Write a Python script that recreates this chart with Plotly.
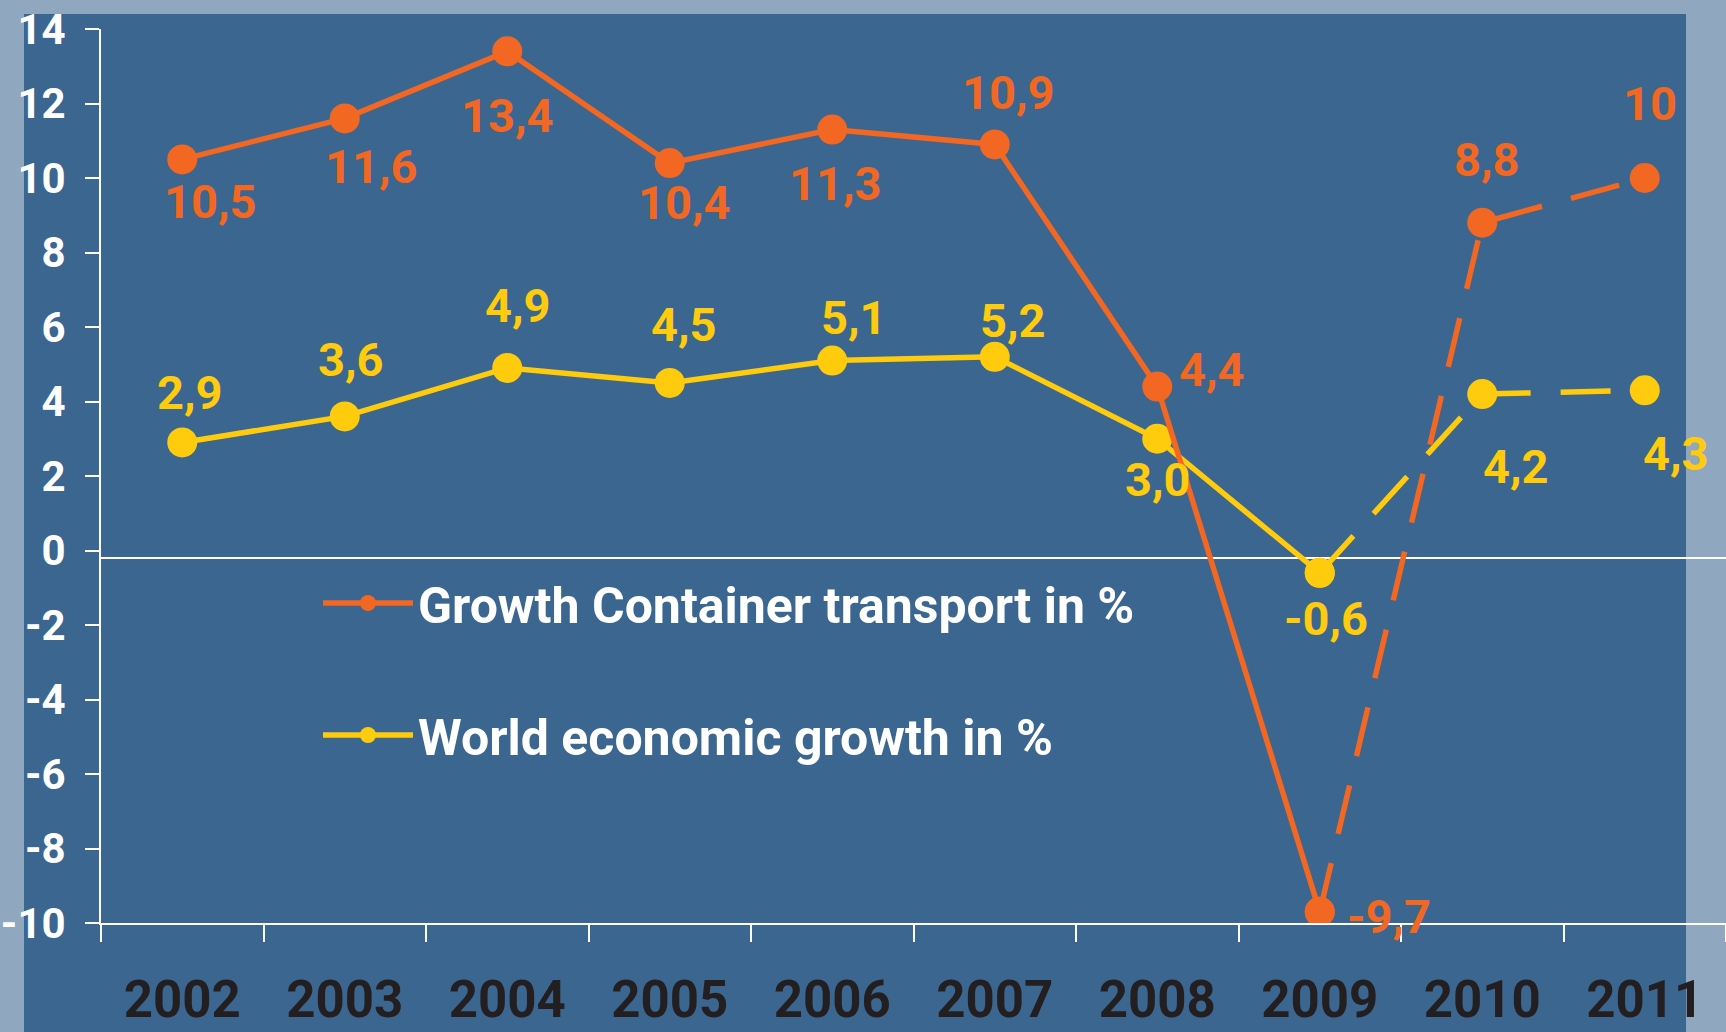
import plotly.graph_objects as go

# ---------------- data ----------------
years = ["2002", "2003", "2004", "2005", "2006", "2007", "2008", "2009", "2010", "2011"]
container_growth = [10.5, 11.6, 13.4, 10.4, 11.3, 10.9, 4.4, -9.7, 8.8, 10.0]
world_growth = [2.9, 3.6, 4.9, 4.5, 5.1, 5.2, 3.0, -0.6, 4.2, 4.3]
container_labels = ["10,5", "11,6", "13,4", "10,4", "11,3", "10,9", "4,4", "-9,7", "8,8", "10"]
world_labels = ["2,9", "3,6", "4,9", "4,5", "5,1", "5,2", "3,0", "-0,6", "4,2", "4,3"]
y_ticks = [-10, -8, -6, -4, -2, 0, 2, 4, 6, 8, 10, 12, 14]
last_actual = "2009"          # solid up to here, dashed afterwards
baseline_value = -0.2         # the light reference line near zero

# ---------------- style ----------------
W, H = 1726, 1032
ML, MR, MT, MB = 101, 0, 29, 109
ORANGE = "#F26722"
YELLOW = "#FFCB0D"
PANEL = "#3A6690"
OUTER = "#8FA7BF"
DARK = "#231F20"
FONT = "Liberation Sans Narrow, Arial Narrow, Roboto, sans-serif"

# label offsets (pixels: dx right, dy down)
container_off = [(28, 42), (26, 48), (0, 64), (14, 39), (3, 54), (13, -52),
                 (55, -17), (69, 5), (5, -63), (5, -75)]
world_off = [(8, -50), (6, -57), (11, -62), (14, -58), (22, -43), (18, -36),
             (1, 41), (6, 46), (34, 72), (31, 63)]

split = years.index(last_actual)
fig = go.Figure()


def add_series(name, vals, color, rank):
    fig.add_trace(go.Scatter(
        x=years[:split + 1], y=vals[:split + 1], name=name, mode="lines+markers",
        line=dict(color=color, width=5.5), marker=dict(color=color, size=30),
        legendgroup=name, legendrank=rank, hoverinfo="skip"))
    fig.add_trace(go.Scatter(
        x=years[split:], y=vals[split:], name=name, mode="lines+markers",
        line=dict(color=color, width=5.5, dash="50px,30px"),
        marker=dict(color=color, size=30), legendgroup=name,
        showlegend=False, hoverinfo="skip"))


add_series("World economic growth in %", world_growth, YELLOW, 2)
add_series("Growth Container transport in %", container_growth, ORANGE, 1)

for vals, labels, offs, color in [(container_growth, container_labels, container_off, ORANGE),
                                  (world_growth, world_labels, world_off, YELLOW)]:
    for i, (v, t, (dx, dy)) in enumerate(zip(vals, labels, offs)):
        # category axes take the category index for annotation positions
        fig.add_annotation(
            x=i, y=v, xref="x", yref="y", text=t, showarrow=False,
            xanchor="center", yanchor="middle", xshift=dx, yshift=-dy,
            font=dict(family=FONT, size=47, color=color, weight="bold"))

pw = W - ML - MR
ph = H - MT - MB
shapes = [
    # dark panel
    dict(type="rect", xref="paper", yref="paper", layer="below",
         x0=(24 - ML) / pw, x1=(1686 - ML) / pw, y0=-MB / ph - 0.01, y1=(H - MB - 14) / ph,
         fillcolor=PANEL, line=dict(width=0)),
    # reference line near zero
    dict(type="line", xref="paper", yref="y", x0=0, x1=1, y0=baseline_value, y1=baseline_value,
         line=dict(color="white", width=2), layer="below"),
]

fig.update_layout(
    width=W, height=H, margin=dict(l=ML, r=MR, t=MT, b=MB, autoexpand=False),
    paper_bgcolor=OUTER, plot_bgcolor="rgba(0,0,0,0)",
    font=dict(family=FONT),
    showlegend=True,
    legend=dict(x=(318 - ML) / pw, y=(H - MB - 564) / ph, xanchor="left", yanchor="top",
                bgcolor="rgba(0,0,0,0)", traceorder="grouped", tracegroupgap=64,
                itemwidth=90,
                font=dict(family=FONT, size=50, color="white", weight="bold")),
    xaxis=dict(type="category", range=[-0.5, len(years) - 0.5], showgrid=False, zeroline=False,
               showline=True, linecolor="white", linewidth=2, ticks="outside",
               tickson="boundaries", ticklen=17, tickwidth=2, tickcolor="white",
               ticklabelstandoff=31, automargin=False,
               tickfont=dict(family=FONT, size=51, color=DARK, weight="bold"), fixedrange=True),
    yaxis=dict(range=[-10, 14], showgrid=False, zeroline=False, showline=True,
               linecolor="white", linewidth=2, ticks="outside", ticklen=14, tickwidth=2,
               tickcolor="white", tickvals=y_ticks, ticktext=[str(t) for t in y_ticks],
               ticklabelstandoff=11, automargin=False,
               tickfont=dict(family=FONT, size=42, color="white", weight="bold"), fixedrange=True),
    shapes=shapes,
)

fig.write_html("out.html", config={"displayModeBar": False},
               post_script="document.body.style.margin='0';")
